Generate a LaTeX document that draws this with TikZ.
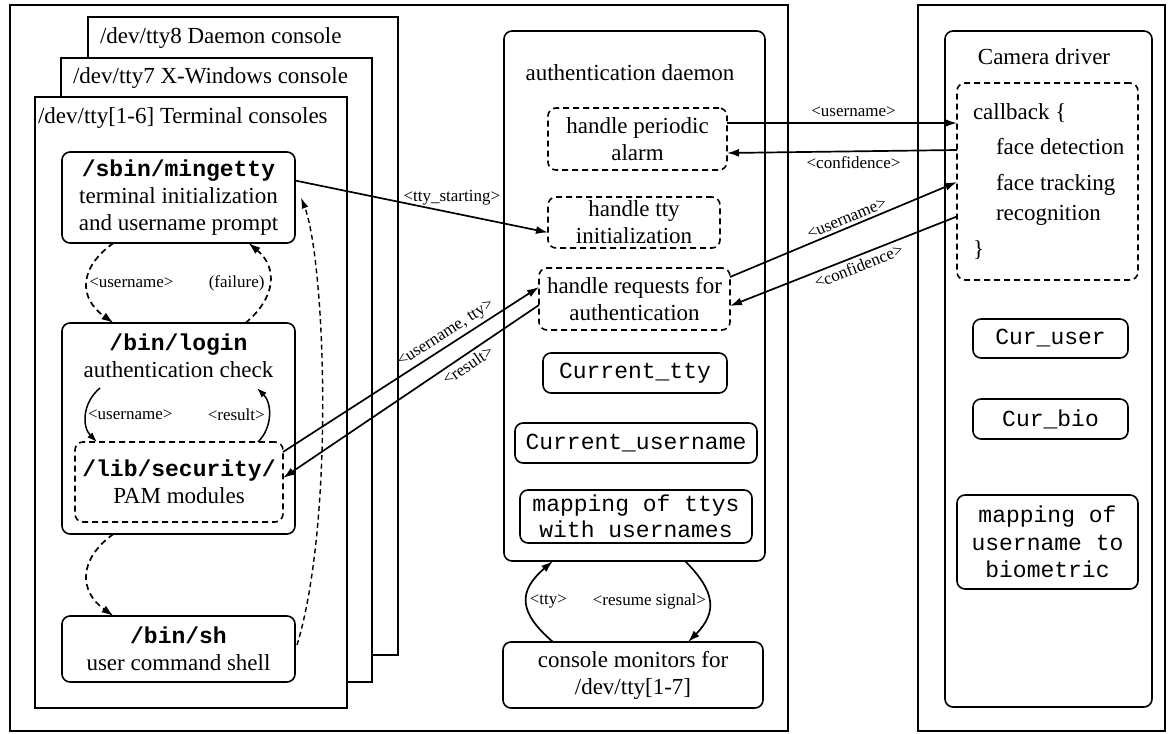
\documentclass[tikz,border=0pt]{standalone}
\usepackage{fontspec}
\setmainfont{Liberation Serif}
\setmonofont{Liberation Mono}
\usetikzlibrary{arrows.meta,calc}
\begin{document}
\begin{tikzpicture}[x=1pt,y=-1pt,
  every node/.style={inner sep=0pt, outer sep=0pt},
  frame/.style={draw, line width=2pt},
  console/.style={draw, line width=1.6pt, fill=white},
  rbox/.style={draw, rounded corners=8pt, line width=1.6pt},
  dbox/.style={rbox, dash pattern=on 6pt off 4pt},
  txt/.style={font=\fontsize{23}{27}\selectfont, align=center},
  mono/.style={font=\ttfamily\fontsize{23}{26}\selectfont, align=center},
  lbl/.style={font=\fontsize{17}{19}\selectfont, inner sep=1pt},
  conn/.style={line width=1.7pt, -{Latex[length=12pt,width=8pt]}},
  sconn/.style={line width=1.5pt, -{Latex[length=10pt,width=7pt]}},
  dconn/.style={conn, dash pattern=on 6pt off 4pt},
  fconn/.style={line width=1.4pt, dash pattern=on 5pt off 3.5pt, -{Latex[length=11pt,width=7pt]}}
]
\useasboundingbox (0,0) rectangle (1168,734);

% outer frames
\node[frame, minimum width=778pt, minimum height=726pt] (leftframe) at (399,368) {};
\node[frame, minimum width=247pt, minimum height=726pt] (rightframe) at (1041.5,368) {};

% stacked consoles
\node[console, minimum width=310pt, minimum height=638pt] (tty8) at (243,336) {};
\node[txt, anchor=west] (tty8t) at (100,38) {/dev/tty8 Daemon console};
\node[console, minimum width=311pt, minimum height=624pt] (tty7) at (216.5,370) {};
\node[txt, anchor=west] (tty7t) at (73,78) {/dev/tty7 X-Windows console};
\node[console, minimum width=312pt, minimum height=611pt] (tty16) at (191,402.5) {};
\node[txt, anchor=west] (tty16t) at (38,118) {/dev/tty[1-6] Terminal consoles};

% left boxes
\node[rbox, txt, minimum width=233pt, minimum height=91pt] (mingetty) at (178.5,197.5)
  {{\ttfamily\bfseries /sbin/mingetty}\\terminal initialization\\and username prompt};
\node[rbox, minimum width=233pt, minimum height=211pt] (login) at (178.5,428.5) {};
\node[txt] (logint) at (178.5,356) {{\ttfamily\bfseries /bin/login}\\authentication check};
\node[dbox, txt, minimum width=208pt, minimum height=80pt] (security) at (179,482)
  {{\ttfamily\bfseries /lib/security/}\\PAM modules};
\node[rbox, txt, minimum width=233pt, minimum height=66pt] (sh) at (178.5,649)
  {{\ttfamily\bfseries /bin/sh}\\user command shell};

% authentication daemon
\node[rbox, minimum width=261pt, minimum height=530pt] (daemon) at (634.5,296) {};
\node[txt] (daemont) at (630,73) {authentication daemon};
\node[dbox, txt, minimum width=179pt, minimum height=62pt] (alarm) at (637.5,139) {handle periodic\\alarm};
\node[dbox, txt, minimum width=172pt, minimum height=51pt] (ttyinit) at (634,222.5) {handle tty\\initialization};
\node[dbox, txt, minimum width=191pt, minimum height=62pt] (requests) at (634.5,299) {handle requests for\\authentication};
\node[rbox, mono, minimum width=184pt, minimum height=40pt] (curtty) at (635,373) {Current\_tty};
\node[rbox, mono, minimum width=242pt, minimum height=40pt] (curuser) at (636,443) {Current\_username};
\node[rbox, mono, minimum width=232pt, minimum height=53pt] (mapttys) at (636,516.5) {mapping of ttys\\with usernames};
\node[rbox, txt, minimum width=260pt, minimum height=66pt] (monitors) at (633,675) {console monitors for\\/dev/tty[1-7]};

% camera driver
\node[rbox, minimum width=207pt, minimum height=676pt] (camera) at (1048.5,369) {};
\node[txt] (camerat) at (1044,57) {Camera driver};
\node[dbox, minimum width=181pt, minimum height=197pt] (cb) at (1047.5,181.5) {};
\node[txt, anchor=west] (cb1) at (973,113) {callback \{};
\node[txt, anchor=west] (cb2) at (996,147) {face detection};
\node[txt, anchor=west] (cb3) at (996,185) {face tracking};
\node[txt, anchor=west] (cb4) at (996,215) {recognition};
\node[txt, anchor=west] (cb5) at (973,250) {\}};
\node[rbox, mono, minimum width=155pt, minimum height=39pt] (curu) at (1050.5,338.5) {Cur\_user};
\node[rbox, mono, minimum width=155pt, minimum height=40pt] (curbio) at (1050.5,419) {Cur\_bio};
\node[rbox, mono, font=\ttfamily\fontsize{23}{27.5}\selectfont, minimum width=181pt, minimum height=94pt] (mapbio) at (1047.5,542) {mapping of\\username to\\biometric};

% connectors: left column
\draw[dconn] ($(mingetty.south)+(-65,0)$) .. controls +(-35,25) and +(-35,-25) ..
  node[lbl, anchor=west, xshift=1pt] (l1) {<username>} ($(login.north)+(-65,0)$);
\draw[dconn] ($(login.north)+(67,0)$) .. controls +(30,-25) and +(30,25) ..
  node[lbl, anchor=east, xshift=-4pt] (l2) {(failure)} ($(mingetty.south)+(70,0)$);
\coordinate (lu) at (100,388);
\coordinate (lr) at (257,388);
\draw[sconn] (lu) .. controls +(-18,15) and +(-15,-15) ..
  node[lbl, anchor=west, xshift=1pt] (l3) {<username>} ($(security.north)+(-82,0)$);
\draw[sconn] ($(security.north)+(79,0)$) .. controls +(15,-15) and +(15,15) ..
  node[lbl, anchor=east, xshift=-3pt] (l4) {<result>} (lr);
\draw[dconn] ($(login.south)+(-65,0)$) .. controls +(-35,25) and +(-35,-25) .. ($(sh.north)+(-65,0)$);
\draw[fconn] ($(sh.east)+(2,-4)$) .. controls (335,520) and (325,260) .. ($(mingetty.east)+(6,0)$);

% connectors: left to daemon
\draw[conn] ($(mingetty.east)+(0,-17)$) -- node[lbl, pos=0.62, above=7pt] (l5) {<tty\_starting>} ($(ttyinit.west)+(0,10)$);
\draw[conn] ($(security.east)+(0,-30)$) -- node[lbl, pos=0.66, sloped, above=3pt] (l6) {<username, tty>} ($(requests.west)+(0,-12)$);
\draw[conn] ($(requests.west)+(0,6)$) -- node[lbl, pos=0.3, sloped, below=3pt] (l7) {<result>} ($(security.east)+(0,-4)$);

% connectors: daemon to camera
\draw[conn] ($(alarm.east)+(0,-16)$) -- node[lbl, pos=0.55, above=5pt] (l8) {<username>} ($(cb.west)+(0,-58.5)$);
\draw[conn] ($(cb.west)+(0,-31.5)$) -- node[lbl, pos=0.45, below=4pt] (l9) {<confidence>} ($(alarm.east)+(0,14)$);
\draw[conn] ($(requests.east)+(0,-22)$) -- node[lbl, pos=0.53, sloped, above=3pt] (l10) {<username>} ($(cb.west)+(0,0.5)$);
\draw[conn] ($(cb.west)+(0,35)$) -- node[lbl, pos=0.45, sloped, below=3pt] (l11) {<confidence>} ($(requests.east)+(0,7)$);

% connectors: monitors <-> daemon
\draw[conn] ($(monitors.north)+(-80,0)$) .. controls +(-35,-30) and +(-35,30) ..
  node[lbl, anchor=west, xshift=2pt] (l12) {<tty>} ($(daemon.south)+(-81.5,0)$);
\draw[conn] ($(daemon.south)+(50.5,0)$) .. controls +(30,30) and +(30,-30) ..
  node[lbl, anchor=east, xshift=-2pt] (l13) {<resume signal>} ($(monitors.north)+(55,0)$);
\end{tikzpicture}
\end{document}
